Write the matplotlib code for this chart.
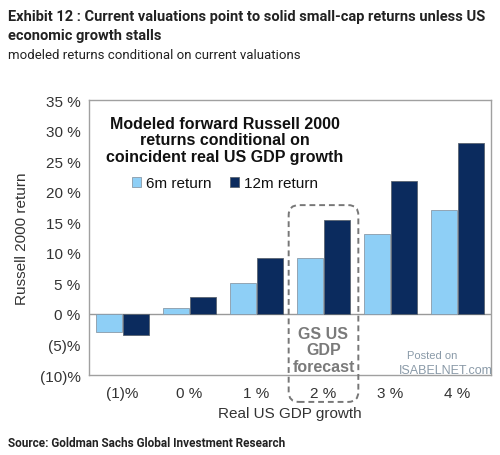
import matplotlib.pyplot as plt
from matplotlib.patches import FancyBboxPatch
from matplotlib.ticker import FuncFormatter
import numpy as np

# data
categories = ['(1)%', '0 %', '1 %', '2 %', '3 %', '4 %']
ret_6m = [-2.9, 0.9, 5.0, 9.1, 13.1, 17.0]
ret_12m = [-3.4, 2.8, 9.1, 15.4, 21.8, 28.0]
yticks = [-10, -5, 0, 5, 10, 15, 20, 25, 30, 35]
forecast_idx = 3  # the "2 %" group

light_blue = '#8ecff6'
navy = '#0b2b5e'
txt = '#333333'

plt.rcParams['font.family'] = ['Liberation Sans', 'DejaVu Sans']
head_font = ['Roboto', 'DejaVu Sans']

fig = plt.figure(figsize=(5.0, 4.56), dpi=100)
ax = fig.add_axes([0.178, 0.1754, 0.804, 0.6031])

x = np.arange(len(categories))
w = 0.39
ax.bar(x - 0.205, ret_6m, w, color=light_blue, edgecolor='#8a9aa8', linewidth=0.6, label='6m return', zorder=2)
ax.bar(x + 0.205, ret_12m, w, color=navy, edgecolor='#5a6470', linewidth=0.6, label='12m return', zorder=2)

ax.axhline(0, color='#999999', linewidth=1.0, zorder=1)
ax.set_xlim(-0.5, len(categories) - 0.5)
ax.set_ylim(-10, 35)
ax.set_yticks(yticks)

def pct(v, pos):
    v = int(round(v))
    return f'({abs(v)})%' if v < 0 else f'{v} %'

ax.yaxis.set_major_formatter(FuncFormatter(pct))
ax.set_xticks(x)
ax.set_xticklabels(categories)
ax.tick_params(axis='both', length=0, labelsize=11, colors=txt)
ax.tick_params(axis='x', pad=8)
ax.tick_params(axis='y', pad=6)
for s in ax.spines.values():
    s.set_color('#a0a0a0')
    s.set_linewidth(1.0)

ax.set_ylabel('Russell 2000 return', fontsize=11, color=txt, labelpad=8)
ax.set_xlabel('Real US GDP growth', fontsize=11, color=txt, labelpad=4)

# inner heading + legend
ax.text(0.338, 0.855, 'Modeled forward Russell 2000\nreturns conditional on\ncoincident real US GDP growth',
        transform=ax.transAxes, ha='center', va='center', fontsize=11.5, fontweight='bold',
        color='#111111', linespacing=1.15)
leg = ax.legend(loc='center', bbox_to_anchor=(0.338, 0.698), ncol=2, frameon=False,
                fontsize=11, handlelength=0.6, handleheight=0.6, handletextpad=0.3,
                columnspacing=1.2, labelcolor='#111111')

# dashed forecast box around the 2% group
box = FancyBboxPatch((forecast_idx - 0.52, -14.4), 1.04, 32.2,
                     boxstyle='round,pad=0,rounding_size=0.15', mutation_aspect=11,
                     fill=False, edgecolor='#777777', linestyle=(0, (3, 2)), linewidth=1.4,
                     clip_on=False, zorder=3)
ax.add_patch(box)
ax.text(forecast_idx, -5.9, 'GS US\nGDP\nforecast', ha='center', va='center', fontsize=11.5,
        fontweight='bold', color='#7a7a7a', linespacing=1.1)

# watermark
ax.text(4.62, -6.8, 'Posted on', ha='center', va='center', fontsize=8, color='#8a9aa8')
ax.text(4.82, -9.2, 'ISABELNET.com', ha='center', va='center', fontsize=9, color='#8a9aa8')

# titles and source
t1 = fig.text(0.016, 0.941, 'Exhibit 12 : Current valuations point to solid small-cap returns unless US\neconomic growth stalls',
              ha='left', va='center', fontsize=11, fontweight='bold', family=head_font,
              color='#222222', linespacing=1.45)
t2 = fig.text(0.016, 0.879, 'modeled returns conditional on current valuations', ha='left', va='center',
              fontsize=10.5, family=head_font, color='#222222')
t3 = fig.text(0.016, 0.028, 'Source: Goldman Sachs Global Investment Research', ha='left', va='center',
              fontsize=10, fontweight='bold', family=head_font, color='#222222')

# shrink header texts so they span the same width as in the original
fig.canvas.draw()
r = fig.canvas.get_renderer()
for t, target in [(t1, 477), (t2, 292), (t3, 278)]:
    wpx = t.get_window_extent(renderer=r).width
    if wpx > target:
        t.set_fontsize(t.get_fontsize() * target / wpx)

fig.savefig('out.png', dpi=100)
